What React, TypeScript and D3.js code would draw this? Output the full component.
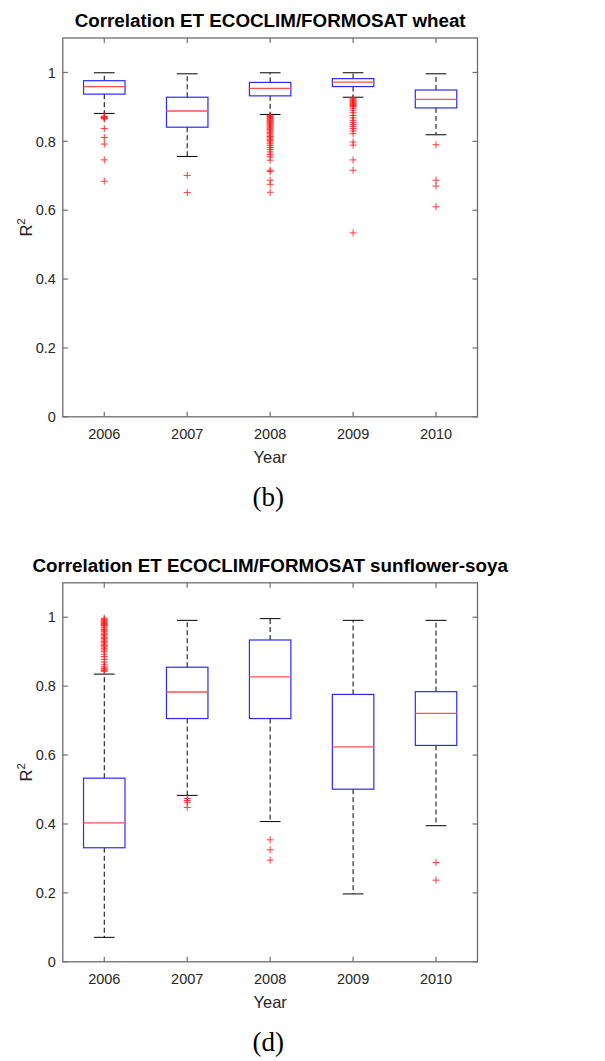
import React from "react";
import * as d3 from "d3";

const years = ["2006", "2007", "2008", "2009", "2010"];
const yTicks = [0, 0.2, 0.4, 0.6, 0.8, 1];

// Wheat (b)
const wheatHigh = [0.999, 0.996, 0.999, 0.999, 0.996];
const wheatQ3 = [0.976, 0.928, 0.971, 0.982, 0.949];
const wheatMed = [0.959, 0.888, 0.954, 0.972, 0.922];
const wheatQ1 = [0.937, 0.841, 0.932, 0.959, 0.897];
const wheatLow = [0.881, 0.756, 0.878, 0.928, 0.819];
const wheatOut2006 = [0.873, 0.871, 0.869, 0.867, 0.865, 0.837, 0.811, 0.792, 0.746, 0.684];
const wheatOut2007 = [0.701, 0.651];
const wheatOut2008 = [0.875, 0.872, 0.869, 0.866, 0.863, 0.86, 0.857, 0.854, 0.851, 0.848, 0.845, 0.842, 0.839, 0.836, 0.833, 0.83, 0.826, 0.822, 0.818, 0.814, 0.81, 0.806, 0.802, 0.798, 0.793, 0.788, 0.782, 0.776, 0.769, 0.762, 0.755, 0.745, 0.716, 0.712, 0.687, 0.675, 0.652];
const wheatOut2009 = [0.925, 0.922, 0.919, 0.916, 0.913, 0.91, 0.907, 0.904, 0.901, 0.896, 0.89, 0.883, 0.875, 0.868, 0.861, 0.855, 0.849, 0.843, 0.837, 0.83, 0.822, 0.798, 0.789, 0.746, 0.716, 0.534];
const wheatOut2010 = [0.79, 0.687, 0.67, 0.61];

// Sunflower-soya (d)
const sfHigh = [0.835, 0.991, 0.996, 0.991, 0.991];
const sfQ3 = [0.533, 0.855, 0.934, 0.776, 0.784];
const sfMed = [0.403, 0.783, 0.827, 0.624, 0.721];
const sfQ1 = [0.331, 0.706, 0.706, 0.501, 0.628];
const sfLow = [0.071, 0.483, 0.407, 0.197, 0.395];
const sfOut2006 = [0.997, 0.994, 0.991, 0.988, 0.985, 0.982, 0.979, 0.976, 0.972, 0.969, 0.965, 0.962, 0.958, 0.954, 0.95, 0.946, 0.942, 0.938, 0.934, 0.93, 0.926, 0.922, 0.918, 0.914, 0.91, 0.905, 0.9, 0.893, 0.886, 0.878, 0.87, 0.862, 0.856, 0.852, 0.849, 0.846, 0.843];
const sfOut2007 = [0.474, 0.468, 0.463, 0.448];
const sfOut2008 = [0.354, 0.325, 0.295];
const sfOut2009: number[] = [];
const sfOut2010 = [0.288, 0.237];

const W = 605;
const H = 1061;
const left = 62.8;
const right = 477.5;

type ChartProps = {
  top: number;
  bottom: number;
  title: string;
  label: string;
  high: number[];
  q3: number[];
  med: number[];
  q1: number[];
  low: number[];
  outliers: number[][];
};

function BoxChart(p: ChartProps) {
  const x = d3.scaleLinear().domain([0.5, 5.5]).range([left, right]);
  const y = d3.scaleLinear().domain([0, 1.1]).range([p.bottom, p.top]);
  const step = x(2) - x(1);
  const boxW = step * 0.5;
  const capW = step * 0.25;
  const axisColor = "#6e6e6e";
  const textColor = "#262626";
  const tickLen = 5;
  const font = "'Liberation Sans', Arial, sans-serif";
  const cx = (left + right) / 2;
  const midY = (p.top + p.bottom) / 2;

  return (
    <g>
      <text x={cx} y={p.top - 11} textAnchor="middle" fontFamily={font} fontWeight="bold" fontSize={18.8} fill="#000">
        {p.title}
      </text>
      {years.map((yr, i) => {
        const xc = x(i + 1);
        return (
          <g key={yr}>
            <line x1={xc} x2={xc} y1={y(p.q3[i])} y2={y(p.high[i])} stroke="#000" strokeDasharray="5,3" strokeWidth={1} />
            <line x1={xc} x2={xc} y1={y(p.q1[i])} y2={y(p.low[i])} stroke="#000" strokeDasharray="5,3" strokeWidth={1} />
            <line x1={xc - capW / 2} x2={xc + capW / 2} y1={y(p.high[i])} y2={y(p.high[i])} stroke="#000" strokeWidth={1} />
            <line x1={xc - capW / 2} x2={xc + capW / 2} y1={y(p.low[i])} y2={y(p.low[i])} stroke="#000" strokeWidth={1} />
            <rect x={xc - boxW / 2} y={y(p.q3[i])} width={boxW} height={y(p.q1[i]) - y(p.q3[i])} fill="none" stroke="#2a2aff" strokeWidth={1.2} />
            <line x1={xc - boxW / 2} x2={xc + boxW / 2} y1={y(p.med[i])} y2={y(p.med[i])} stroke="#ff5050" strokeWidth={1.3} />
            {p.outliers[i].map((v, j) => (
              <g key={j} stroke="#ff1a1a" strokeWidth={1} opacity={0.85}>
                <line x1={xc - 3.5} x2={xc + 3.5} y1={y(v)} y2={y(v)} />
                <line x1={xc} x2={xc} y1={y(v) - 3.5} y2={y(v) + 3.5} />
              </g>
            ))}
          </g>
        );
      })}
      <rect x={left} y={p.top} width={right - left} height={p.bottom - p.top} fill="none" stroke={axisColor} strokeWidth={1.3} />
      {yTicks.map((t) => (
        <g key={t}>
          <line x1={left} x2={left + tickLen} y1={y(t)} y2={y(t)} stroke={axisColor} strokeWidth={1.2} />
          <line x1={right} x2={right - tickLen} y1={y(t)} y2={y(t)} stroke={axisColor} strokeWidth={1.2} />
          <text x={left - 7} y={y(t) + 5.2} textAnchor="end" fontFamily={font} fontSize={14.5} fill={textColor}>
            {String(t)}
          </text>
        </g>
      ))}
      {years.map((yr, i) => (
        <g key={yr}>
          <line x1={x(i + 1)} x2={x(i + 1)} y1={p.bottom} y2={p.bottom - tickLen} stroke={axisColor} strokeWidth={1.2} />
          <line x1={x(i + 1)} x2={x(i + 1)} y1={p.top} y2={p.top + tickLen} stroke={axisColor} strokeWidth={1.2} />
          <text x={x(i + 1)} y={p.bottom + 22} textAnchor="middle" fontFamily={font} fontSize={14.5} fill={textColor}>
            {yr}
          </text>
        </g>
      ))}
      <text x={cx} y={p.bottom + 46} textAnchor="middle" fontFamily={font} fontSize={16.5} fill={textColor}>
        Year
      </text>
      <text transform={`translate(31.5,${midY}) rotate(-90)`} textAnchor="middle" fontFamily={font} fontSize={16.5} fill={textColor}>
        R<tspan fontSize={11.5} dy={-7}>2</tspan>
      </text>
      <text x={cx - 2} y={p.bottom + 89} textAnchor="middle" fontFamily="'Liberation Serif', 'Times New Roman', serif" fontSize={27} fill="#000">
        {p.label}
      </text>
    </g>
  );
}

export default function App() {
  return (
    <svg width={W} height={H} style={{ position: "absolute", left: 0, top: 0, background: "#fff" }}>
      <rect x={0} y={0} width={W} height={H} fill="#fff" />
      <BoxChart
        top={38}
        bottom={416.8}
        title="Correlation ET ECOCLIM/FORMOSAT wheat"
        label="(b)"
        high={wheatHigh}
        q3={wheatQ3}
        med={wheatMed}
        q1={wheatQ1}
        low={wheatLow}
        outliers={[wheatOut2006, wheatOut2007, wheatOut2008, wheatOut2009, wheatOut2010]}
      />
      <BoxChart
        top={582.8}
        bottom={961.8}
        title="Correlation ET ECOCLIM/FORMOSAT sunflower-soya"
        label="(d)"
        high={sfHigh}
        q3={sfQ3}
        med={sfMed}
        q1={sfQ1}
        low={sfLow}
        outliers={[sfOut2006, sfOut2007, sfOut2008, sfOut2009, sfOut2010]}
      />
    </svg>
  );
}
